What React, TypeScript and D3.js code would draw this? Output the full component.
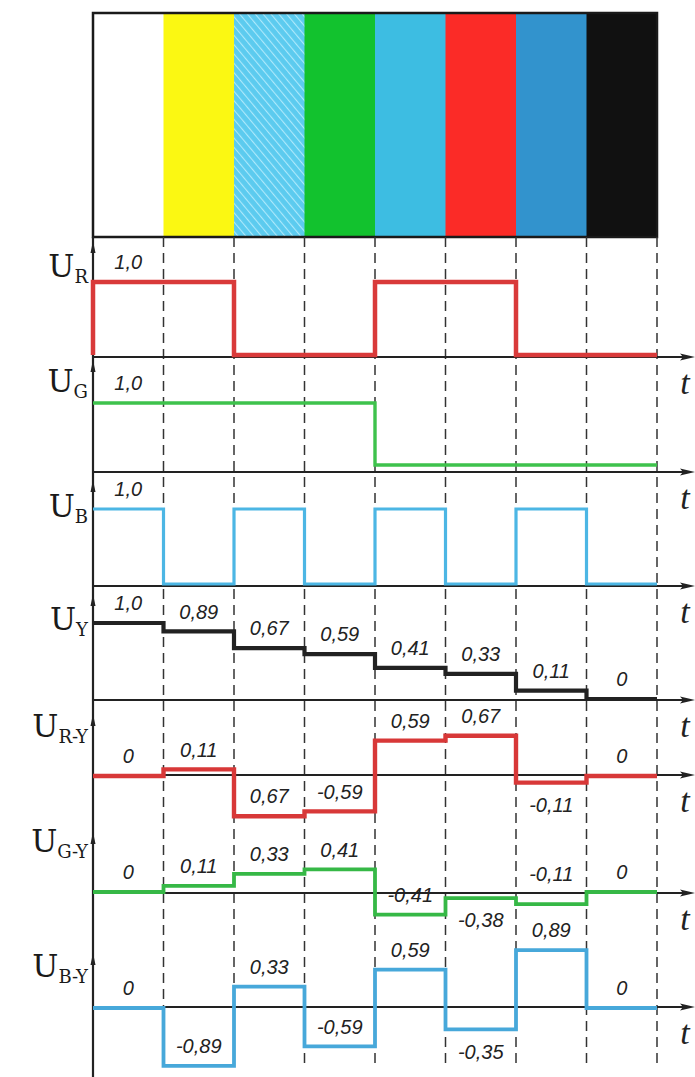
import React from "react";
import * as d3 from "d3";

// colour bar order
const bars = ["white", "yellow", "cyan", "green", "magenta", "red", "blue", "black"];
const barFill = ["#ffffff", "#fbf812", "url(#hatch)", "#12c22e", "#3dbde2", "#fb2b27", "#3293cd", "#111111"];

// signal levels per bar
const uR = [1, 1, 0, 0, 1, 1, 0, 0];
const uG = [1, 1, 1, 1, 0, 0, 0, 0];
const uB = [1, 0, 1, 0, 1, 0, 1, 0];
const uY = [1, 0.89, 0.67, 0.59, 0.41, 0.33, 0.11, 0];
const uRY = [0, 0.11, -0.67, -0.59, 0.59, 0.67, -0.11, 0];
const uGY = [0, 0.11, 0.33, 0.41, -0.41, -0.11, -0.22, 0];
const uBY = [0, -0.89, 0.33, -0.59, 0.59, -0.33, 0.89, 0];

// printed value labels
const labR = ["1,0"];
const labG = ["1,0"];
const labB = ["1,0"];
const labY = ["1,0", "0,89", "0,67", "0,59", "0,41", "0,33", "0,11", "0"];
const labRY = ["0", "0,11", "0,67", "-0,59", "0,59", "0,67", "-0,11", "0"];
const labGY = ["0", "0,11", "0,33", "0,41", "-0,41", "-0,38", "-0,11", "0"];
const labBY = ["0", "-0,89", "0,33", "-0,59", "0,59", "-0,35", "0,89", "0"];

// panel layout (not data)
const panels = [
  { name: "R", values: uR, labels: labR, below: [], raised: [], color: "#d93a3a", width: 4.5, axis: 357, zero: 355, unit: 73, lab: 277, arrow: 241, fromAxis: true },
  { name: "G", values: uG, labels: labG, below: [], raised: [], color: "#3ec24c", width: 3.4, axis: 472, zero: 465, unit: 62, lab: 392, arrow: 360, fromAxis: false },
  { name: "B", values: uB, labels: labB, below: [], raised: [], color: "#4cb6e4", width: 3.2, axis: 586, zero: 584, unit: 75, lab: 517, arrow: 480, fromAxis: false },
  { name: "Y", values: uY, labels: labY, below: [], raised: [], color: "#222222", width: 4.2, axis: 700, zero: 699, unit: 76, lab: 630, arrow: 594, fromAxis: false },
  { name: "R-Y", values: uRY, labels: labRY, below: [6], raised: [], color: "#d83838", width: 4.4, axis: 775, zero: 776, unit: 60, lab: 737, arrow: 714, fromAxis: false },
  { name: "G-Y", values: uGY, labels: labGY, below: [5], raised: [6], color: "#36b846", width: 3.8, axis: 893, zero: 892, unit: 55, lab: 852, arrow: 832, fromAxis: false },
  { name: "B-Y", values: uBY, labels: labBY, below: [5], raised: [], color: "#47a8da", width: 3.8, axis: 1007, zero: 1008, unit: 65, lab: 977, arrow: 953, fromAxis: false },
];

const left = 93;
const right = 657;
const boxTop = 13;
const boxBottom = 237;

export default function App() {
  const x = d3.scaleLinear().domain([0, bars.length]).range([left, right]);
  const idx = d3.range(bars.length);

  const valueFont = {
    fontFamily: "'Liberation Sans', Arial, sans-serif",
    fontStyle: "italic" as const,
    fontSize: 20,
    fill: "#222",
  };

  return (
    <svg width={695} height={1077} style={{ position: "absolute", left: 0, top: 0, background: "#fff" }}>
      <defs>
        <pattern id="hatch" width={6} height={6} patternUnits="userSpaceOnUse" patternTransform="rotate(-40)">
          <rect width={6} height={6} fill="#5ccbef" />
          <line x1={0} y1={0} x2={0} y2={6} stroke="#aee9fb" strokeWidth={2.2} />
        </pattern>
      </defs>

      {/* colour bars */}
      {idx.map((i) => (
        <rect key={bars[i]} x={x(i)} y={boxTop} width={x(i + 1) - x(i) + 0.5} height={boxBottom - boxTop} fill={barFill[i]} />
      ))}
      <rect x={left} y={boxTop} width={right - left} height={boxBottom - boxTop} fill="none" stroke="#1a1a1a" strokeWidth={2.5} />

      {/* dashed bar boundaries */}
      {d3.range(1, bars.length + 1).map((i) => (
        <line key={"d" + i} x1={x(i)} x2={x(i)} y1={boxBottom} y2={1065} stroke="#333" strokeWidth={1.5} strokeDasharray="10,6" />
      ))}

      {/* left vertical axis */}
      <line x1={left} x2={left} y1={boxBottom} y2={1077} stroke="#222" strokeWidth={2.2} />

      {panels.map((p) => {
        const y = d3.scaleLinear().domain([0, 1]).range([p.zero, p.zero - p.unit]);
        const pts: [number, number][] = p.values.map((v, i) => [i, v] as [number, number]);
        pts.push([bars.length, p.values[p.values.length - 1]]);
        if (p.fromAxis) pts.unshift([0, 0]);
        const line = d3
          .line<[number, number]>()
          .x((d) => x(d[0]))
          .y((d) => y(d[1]))
          .curve(d3.curveStepAfter);

        return (
          <g key={p.name}>
            {/* time axis */}
            <line x1={left} x2={690} y1={p.axis} y2={p.axis} stroke="#222" strokeWidth={2.2} />
            <path d={`M695,${p.axis} L680,${p.axis - 3.5} L683,${p.axis} L680,${p.axis + 3.5} Z`} fill="#222" />
            <text x={685} y={p.axis + 37} textAnchor="middle" fontFamily="'Liberation Serif', serif" fontStyle="italic" fontSize={34} fill="#222">
              t
            </text>
            {/* up arrow on vertical axis */}
            <path d={`M${left},${p.arrow} L${left - 2.5},${p.arrow + 12} L${left + 2.5},${p.arrow + 12} Z`} fill="#222" />

            {/* trace */}
            <path d={line(pts) || ""} fill="none" stroke={p.color} strokeWidth={p.width} strokeLinejoin="miter" />

            {/* panel label */}
            <text x={88} y={p.lab} textAnchor="end" fontFamily="'DejaVu Serif', serif" fill="#1a1a1a">
              <tspan fontSize={31}>U</tspan>
              <tspan fontSize={18} dy={6}>{p.name}</tspan>
            </text>

            {/* value labels */}
            {p.labels.map((s, i) => {
              const below = p.below.includes(i);
              const raised = p.raised.includes(i);
              return (
                <text
                  key={i}
                  x={(x(i) + x(i + 1)) / 2}
                  y={y(p.values[i]) + (below ? 24 : raised ? -28 : -18)}
                  textAnchor="middle"
                  dominantBaseline="middle"
                  {...valueFont}
                >
                  {s}
                </text>
              );
            })}
          </g>
        );
      })}
    </svg>
  );
}
